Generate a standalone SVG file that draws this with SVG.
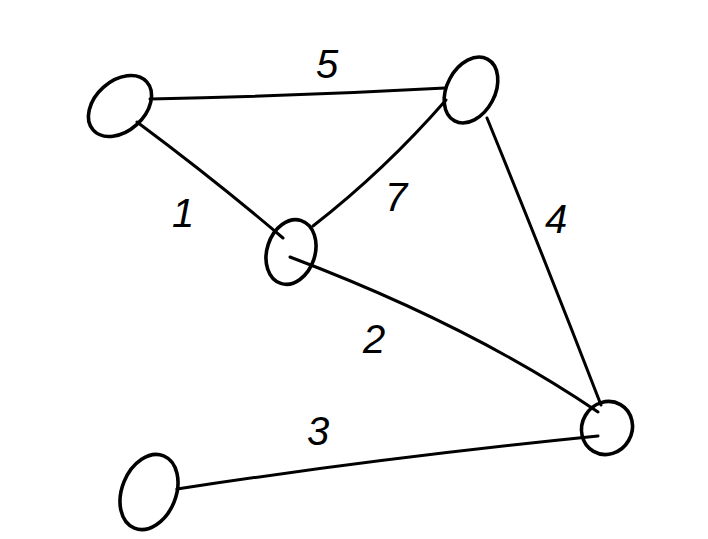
<svg xmlns="http://www.w3.org/2000/svg" width="708" height="539" viewBox="0 0 708 539">
<style>
.n{fill:none;stroke:#000;stroke-width:3.6;stroke-linecap:round}
.e{fill:none;stroke:#000;stroke-width:3;stroke-linecap:round}
.l{font-family:"Liberation Sans",sans-serif;font-size:40px;fill:#000;font-style:italic;text-anchor:middle}
</style>
<rect width="708" height="539" fill="#fff"/>
<g id="connectors">
<path class="e" d="M150,99 Q300,96 445,88"/>
<path class="e" d="M137,122 Q215,180 283,238"/>
<path class="e" d="M313,226 Q385,170 446,100"/>
<path class="e" d="M487,118 Q545,260 601,405"/>
<path class="e" d="M290,257 Q470,325 598,412"/>
<path class="e" d="M177,489 Q380,458 598,436"/>
</g>
<g id="labels">
<text class="l" x="327" y="78">5</text>
<text class="l" x="183" y="227">1</text>
<text class="l" x="396" y="211">7</text>
<text class="l" x="556" y="233">4</text>
<text class="l" x="374" y="353">2</text>
<text class="l" x="318" y="445">3</text>
</g>
<g id="nodeA"><ellipse class="n" cx="120" cy="106" rx="36" ry="25" transform="rotate(-42 120 106)"/></g>
<g id="nodeB"><ellipse class="n" cx="471" cy="90" rx="35" ry="24" transform="rotate(-62 471 90)"/></g>
<g id="nodeC"><ellipse class="n" cx="291" cy="252" rx="33" ry="24" transform="rotate(-72 291 252)"/></g>
<g id="nodeD"><ellipse class="n" cx="607" cy="428" rx="27" ry="25" transform="rotate(-60 607 428)"/></g>
<g id="nodeE"><ellipse class="n" cx="149" cy="492" rx="39" ry="27" transform="rotate(-68 149 492)"/></g>
</svg>
